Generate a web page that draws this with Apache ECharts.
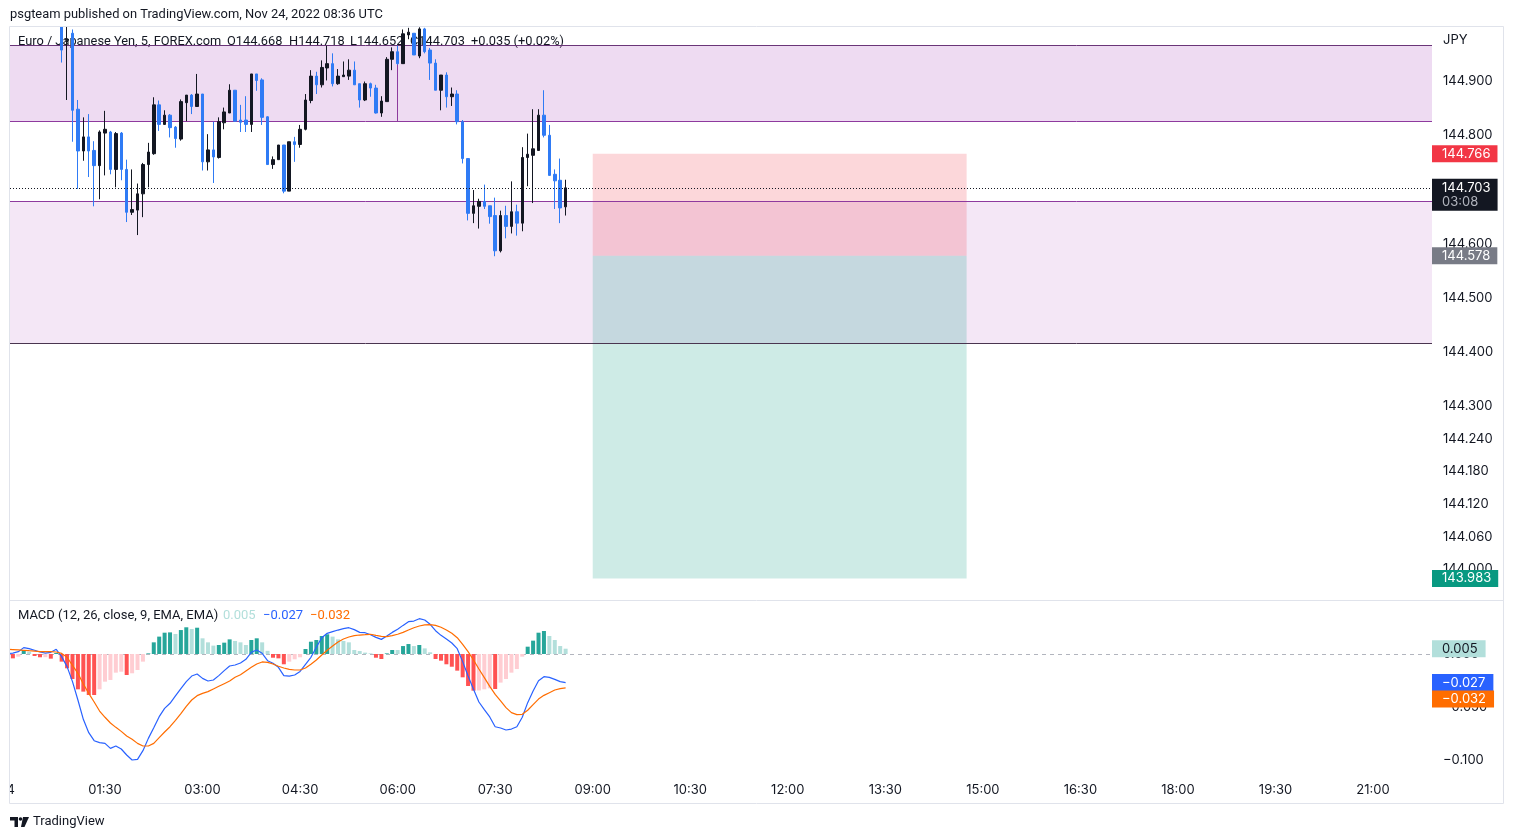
<!DOCTYPE html>
<html><head><meta charset="utf-8">
<script src="https://cdn.jsdelivr.net/npm/echarts@6/dist/echarts.min.js"></script>
<style>html,body{margin:0;padding:0;background:#fff;}#c{width:1514px;height:839px;}</style>
</head><body><div id="c"></div>
<script>
// ---------- DATA ----------
const barTimes = [
'00:00','00:05','00:10','00:15','00:20','00:25','00:30','00:35','00:40','00:45',
'00:50','00:55','01:00','01:05','01:10','01:15','01:20','01:25','01:30','01:35',
'01:40','01:45','01:50','01:55','02:00','02:05','02:10','02:15','02:20','02:25',
'02:30','02:35','02:40','02:45','02:50','02:55','03:00','03:05','03:10','03:15',
'03:20','03:25','03:30','03:35','03:40','03:45','03:50','03:55','04:00','04:05',
'04:10','04:15','04:20','04:25','04:30','04:35','04:40','04:45','04:50','04:55',
'05:00','05:05','05:10','05:15','05:20','05:25','05:30','05:35','05:40','05:45',
'05:50','05:55','06:00','06:05','06:10','06:15','06:20','06:25','06:30','06:35',
'06:40','06:45','06:50','06:55','07:00','07:05','07:10','07:15','07:20','07:25',
'07:30','07:35','07:40','07:45','07:50','07:55','08:00','08:05','08:10','08:15',
'08:20','08:25','08:30','08:35'];
const candleTimes = barTimes.slice(10);
const opens = [
145.030,144.975,144.988,144.848,144.771,144.797,144.772,144.744,144.804,144.806,
144.737,144.804,144.737,144.658,144.662,144.692,144.746,144.766,144.856,144.820,
144.837,144.815,144.793,144.860,144.874,144.853,144.876,144.751,144.773,144.759,
144.823,144.841,144.883,144.828,144.828,144.820,144.913,144.902,144.834,144.746,
144.755,144.782,144.697,144.788,144.783,144.811,144.864,144.909,144.893,144.924,
144.932,144.895,144.908,144.909,144.920,144.895,144.865,144.895,144.887,144.841,
144.862,144.940,144.954,144.932,144.985,144.988,144.946,144.996,144.957,144.933,
144.883,144.911,144.871,144.876,144.825,144.757,144.656,144.669,144.678,144.670,
144.652,144.587,144.652,144.632,144.659,144.638,144.759,144.763,144.772,144.837,
144.800,144.728,144.717,144.668];
const highs = [
145.050,145.020,144.995,144.865,144.833,144.839,144.789,144.809,144.845,144.808,
144.806,144.806,144.755,144.737,144.711,144.749,144.786,144.870,144.864,144.846,
144.839,144.817,144.866,144.874,144.876,144.913,144.876,144.802,144.825,144.833,
144.851,144.894,144.883,144.856,144.872,144.913,144.913,144.905,144.835,144.761,
144.782,144.782,144.788,144.797,144.819,144.876,144.920,144.917,144.938,144.965,
144.951,144.922,144.936,144.940,144.936,144.895,144.899,144.897,144.893,144.872,
144.944,144.962,144.965,144.995,144.998,144.988,144.999,144.998,144.961,144.940,
144.911,144.916,144.888,144.883,144.828,144.758,144.699,144.683,144.709,144.670,
144.685,144.661,144.670,144.715,144.672,144.778,144.803,144.848,144.848,144.883,
144.819,144.737,144.757,144.718];
const lows = [
144.934,144.865,144.788,144.701,144.753,144.723,144.669,144.682,144.726,144.728,
144.704,144.717,144.640,144.653,144.616,144.649,144.704,144.764,144.808,144.819,
144.796,144.777,144.790,144.826,144.839,144.853,144.735,144.735,144.712,144.757,
144.811,144.841,144.825,144.806,144.806,144.806,144.882,144.819,144.746,144.738,
144.755,144.693,144.697,144.751,144.777,144.809,144.859,144.876,144.888,144.901,
144.890,144.893,144.908,144.902,144.893,144.851,144.863,144.871,144.840,144.834,
144.862,144.920,144.930,144.932,144.977,144.948,144.942,144.951,144.902,144.883,
144.846,144.851,144.854,144.820,144.748,144.643,144.638,144.628,144.664,144.637,
144.577,144.584,144.610,144.619,144.615,144.623,144.706,144.675,144.772,144.796,
144.726,144.664,144.638,144.652];
const closes = [
144.957,144.977,144.846,144.771,144.797,144.771,144.744,144.806,144.811,144.737,
144.803,144.737,144.658,144.663,144.692,144.746,144.769,144.856,144.820,144.837,
144.814,144.794,144.862,144.874,144.853,144.876,144.751,144.773,144.760,144.825,
144.843,144.883,144.826,144.824,144.820,144.913,144.901,144.833,144.746,144.755,
144.782,144.697,144.788,144.783,144.811,144.865,144.909,144.893,144.925,144.932,
144.895,144.909,144.911,144.920,144.893,144.865,144.895,144.887,144.841,144.863,
144.940,144.954,144.932,144.987,144.990,144.948,144.996,144.954,144.933,144.883,
144.911,144.871,144.876,144.825,144.757,144.656,144.670,144.678,144.669,144.650,
144.587,144.652,144.632,144.659,144.638,144.759,144.765,144.775,144.837,144.800,
144.726,144.716,144.666,144.703];

const macdLine = [
0.0003,0.0009,0.0022,0.0060,0.0050,0.0035,0.0019,0.0009,0.0016,0.0044,
-0.0025,-0.0119,-0.0261,-0.0434,-0.0616,-0.0742,-0.0818,-0.0836,-0.0843,-0.0890,
-0.0868,-0.0896,-0.0953,-0.1000,-0.0994,-0.0912,-0.0796,-0.0695,-0.0591,-0.0513,
-0.0465,-0.0396,-0.0327,-0.0261,-0.0208,-0.0189,-0.0230,-0.0255,-0.0245,-0.0204,
-0.0157,-0.0113,-0.0104,-0.0085,-0.0050,0.0016,0.0038,0.0006,-0.0063,-0.0088,
-0.0126,-0.0204,-0.0208,-0.0198,-0.0164,-0.0097,
-0.0031,0.0063,0.0154,0.0195,0.0211,0.0226,0.0239,0.0248,0.0230,0.0204,
0.0201,0.0182,0.0157,0.0138,0.0170,0.0204,0.0233,0.0270,0.0305,0.0311,
0.0333,0.0321,0.0280,0.0220,0.0176,0.0142,0.0104,0.0050,-0.0072,-0.0208,
-0.0333,-0.0453,-0.0525,-0.0594,-0.0686,-0.0698,-0.0717,-0.0708,-0.0686,-0.0597,
-0.0459,-0.0349,-0.0252,-0.0214,-0.0220,-0.0239,-0.0261,-0.0270];
const signalLine = [
0.0044,0.0041,0.0038,0.0035,0.0031,0.0028,0.0022,0.0022,0.0022,0.0019,
0.0006,-0.0031,-0.0107,-0.0182,-0.0283,-0.0371,-0.0453,-0.0538,-0.0597,-0.0651,
-0.0692,-0.0730,-0.0774,-0.0805,-0.0843,-0.0868,-0.0868,-0.0843,-0.0789,-0.0736,
-0.0686,-0.0626,-0.0563,-0.0494,-0.0434,-0.0393,-0.0371,-0.0355,-0.0330,-0.0305,
-0.0280,-0.0255,-0.0220,-0.0195,-0.0160,-0.0126,-0.0094,-0.0075,-0.0079,-0.0094,
-0.0116,-0.0132,-0.0145,-0.0151,-0.0151,-0.0132,
-0.0097,-0.0057,-0.0009,0.0035,0.0075,0.0113,0.0142,0.0160,0.0173,0.0179,
0.0182,0.0186,0.0176,0.0167,0.0164,0.0173,0.0186,0.0204,0.0226,0.0248,
0.0264,0.0274,0.0277,0.0270,0.0252,0.0226,0.0195,0.0154,0.0091,0.0022,
-0.0057,-0.0142,-0.0223,-0.0305,-0.0381,-0.0443,-0.0506,-0.0553,-0.0572,-0.0569,
-0.0531,-0.0478,-0.0425,-0.0390,-0.0365,-0.0340,-0.0327,-0.0320];
const histogram = [
-0.0040,-0.0041,-0.0025,0.0038,0.0022,-0.0019,-0.0031,-0.0030,-0.0044,0.0010,
-0.0072,-0.0135,-0.0236,-0.0333,-0.0355,-0.0387,-0.0387,-0.0333,-0.0261,-0.0245,
-0.0176,-0.0167,-0.0198,-0.0182,-0.0151,-0.0072,0.0006,0.0110,0.0164,0.0201,
0.0204,0.0189,0.0226,0.0252,0.0236,0.0248,0.0148,0.0110,0.0079,0.0085,
0.0107,0.0138,0.0123,0.0110,0.0085,0.0132,0.0148,0.0110,0.0030,-0.0035,
-0.0041,-0.0097,-0.0072,-0.0050,-0.0031,0.0047,
0.0116,0.0132,0.0170,0.0186,0.0164,0.0138,0.0123,0.0110,0.0038,0.0028,
0.0013,0.0006,-0.0035,-0.0047,0.0006,0.0038,0.0038,0.0075,0.0094,0.0075,
0.0085,0.0053,0.0016,-0.0047,-0.0063,-0.0097,-0.0120,-0.0157,-0.0220,-0.0302,
-0.0346,-0.0344,-0.0333,-0.0324,-0.0330,-0.0270,-0.0236,-0.0176,-0.0142,-0.0025,
0.0069,0.0126,0.0201,0.0217,0.0170,0.0132,0.0075,0.0050];

const priceTicks = [144.9, 144.8, 144.7, 144.6, 144.5, 144.4, 144.3, 144.24, 144.18, 144.12, 144.06, 144.0];
const macdTicks = [0, -0.05, -0.1];
const timeTicks = ['01:30','03:00','04:30','06:00','07:30','09:00','10:30','12:00','13:30','15:00','16:30','18:00','19:30','21:00'];

// drawings (price levels / times)
const upperZone = [144.9664, 144.8263];
const lowerZone = [144.6788, 144.4171];
const drawnLine = {time: '06:00', from: 144.9315, to: 144.8263};
const position = {start: '09:00', end: '14:45', stop: 144.766, entry: 144.578, target: 143.983};
const lastPrice = 144.703, countdown = '03:08';
const lastMacd = {hist: 0.005, macd: -0.027, signal: -0.032};

// ---------- CHART ----------
const NUMFONT = "Inter, Roboto, sans-serif";
const FONT = "Roboto, 'Noto Sans', sans-serif";
const TXT = '#131722';
const CLEAR = 'rgba(0,0,0,0)';
const toMin = s => { const p = s.split(':').map(Number); return p[0] * 60 + p[1]; };
const fmtT = m => String(Math.floor(m / 60)).padStart(2, '0') + ':' + String(m % 60).padStart(2, '0');
const fmtM = v => (v < 0 ? '\u2212' : '') + Math.abs(v).toFixed(3);
const X_MIN = 2.34, X_MAX = 1314.4;
const Y_MIN = 143.9433, Y_MAX = 144.9977;
const M_MIN = -0.11415, M_MAX = 0.05;

const candleData = candleTimes.map((t, i) => [toMin(t), opens[i], closes[i], lows[i], highs[i]]);
const histData = histogram.map((v, i) => {
  const p = i > 0 ? histogram[i - 1] : v;
  const c = v >= 0 ? (v > p ? '#26A69A' : '#B2DFDB') : (v > p ? '#FFCDD2' : '#FF5252');
  return { value: [toMin(barTimes[i]), v], itemStyle: { color: c } };
});
const macdData = macdLine.map((v, i) => [toMin(barTimes[i]), v]);
const sigData = signalLine.map((v, i) => [toMin(barTimes[i]), v]);

const boxLabel = (text, bg, fg, extra) => Object.assign({
  show: true, position: 'end', distance: 0, backgroundColor: bg, color: fg,
  fontFamily: NUMFONT, fontSize: 13, lineHeight: 14, padding: [2, 7, 1, 10],
  formatter: () => text
}, extra || {});
const hidden = { color: CLEAR, width: 0 };

const option = {
  animation: false,
  textStyle: { fontFamily: NUMFONT },
  grid: [
    { left: 10, top: 28, width: 1422, height: 572 },
    { left: 10, top: 601, width: 1422, height: 174 }
  ],
  xAxis: [
    { type: 'value', gridIndex: 0, min: X_MIN, max: X_MAX, axisLine: { show: false }, axisTick: { show: false }, axisLabel: { show: false }, splitLine: { show: false } },
    { type: 'value', gridIndex: 1, min: X_MIN, max: X_MAX, axisLine: { show: false }, axisTick: { show: false }, splitLine: { show: false },
      axisLabel: { customValues: timeTicks.map(toMin), formatter: v => fmtT(v), color: TXT, fontSize: 13, margin: 9, fontFamily: NUMFONT } }
  ],
  yAxis: [
    { type: 'value', gridIndex: 0, position: 'right', min: Y_MIN, max: Y_MAX, axisLine: { show: false }, axisTick: { show: false }, splitLine: { show: false },
      axisLabel: { customValues: priceTicks, formatter: v => v.toFixed(3), color: TXT, fontSize: 13, margin: 11, fontFamily: NUMFONT } },
    { type: 'value', gridIndex: 1, position: 'right', min: M_MIN, max: M_MAX, axisLine: { show: false }, axisTick: { show: false }, splitLine: { show: false },
      axisLabel: { customValues: macdTicks, formatter: v => fmtM(v), color: TXT, fontSize: 13, margin: 11, fontFamily: NUMFONT } }
  ],
  series: [
    { // drawings: zones, position tool
      type: 'line', name: 'drawings', xAxisIndex: 0, yAxisIndex: 0, data: [], z: 1, silent: true,
      markArea: {
        silent: true, z: 1,
        data: [
          [{ xAxis: X_MIN, yAxis: upperZone[0], itemStyle: { color: 'rgba(156,39,176,0.17)' } }, { xAxis: X_MAX, yAxis: upperZone[1] }],
          [{ xAxis: X_MIN, yAxis: lowerZone[0], itemStyle: { color: 'rgba(156,39,176,0.11)' } }, { xAxis: X_MAX, yAxis: lowerZone[1] }],
          [{ xAxis: toMin(position.start), yAxis: position.stop, itemStyle: { color: 'rgba(242,54,69,0.2)' } }, { xAxis: toMin(position.end), yAxis: position.entry }],
          [{ xAxis: toMin(position.start), yAxis: position.entry, itemStyle: { color: 'rgba(8,153,129,0.2)' } }, { xAxis: toMin(position.end), yAxis: position.target }]
        ]
      },
      markLine: {
        silent: true, z: 1, symbol: 'none', precision: 4, label: { show: false },
        lineStyle: { color: '#8E3A9E', width: 1, type: 'solid' },
        data: [
          { yAxis: upperZone[0], lineStyle: { color: '#6A3578' } }, { yAxis: upperZone[1] },
          { yAxis: lowerZone[0] }, { yAxis: lowerZone[1], lineStyle: { color: '#4A3550' } },
          [{ coord: [toMin(drawnLine.time), drawnLine.from] }, { coord: [toMin(drawnLine.time), drawnLine.to] }]
        ]
      }
    },
    {
      type: 'candlestick', name: 'EURJPY', xAxisIndex: 0, yAxisIndex: 0, z: 2,
      data: candleData, encode: { x: 0, y: [1, 2, 3, 4] }, barWidth: 3, clip: true,
      itemStyle: { color: '#131722', color0: '#2F7BF5', borderColor: '#131722', borderColor0: '#2F7BF5', borderWidth: 1 },
      markLine: {
        silent: true, symbol: 'none', precision: 4,
        data: [
          { yAxis: lastPrice, lineStyle: { color: '#131722', type: [1, 2], width: 1 },
            label: boxLabel('{a|' + lastPrice.toFixed(3) + '}\n{b|' + countdown + '}', '#131722', '#ffffff', { offset: [0, 7], padding: [2, 7, 2, 10],
              rich: { a: { color: '#ffffff', fontSize: 13, lineHeight: 14, fontFamily: NUMFONT }, b: { color: '#B2B5BE', fontSize: 13, lineHeight: 14, fontFamily: NUMFONT } } }) },
          { yAxis: position.stop, lineStyle: hidden, label: boxLabel(position.stop.toFixed(3), '#F23645', '#ffffff') },
          { yAxis: position.entry, lineStyle: hidden, label: boxLabel(position.entry.toFixed(3), '#787B86', '#ffffff') },
          { yAxis: position.target, lineStyle: hidden, label: boxLabel(position.target.toFixed(3), '#089981', '#ffffff') }
        ]
      }
    },
    {
      type: 'bar', name: 'Histogram', xAxisIndex: 1, yAxisIndex: 1, data: histData, barWidth: 4, z: 2,
      markLine: {
        silent: true, symbol: 'none', precision: 4,
        data: [
          { yAxis: lastMacd.hist, lineStyle: hidden, label: boxLabel(fmtM(lastMacd.hist), '#B2DFDB', '#131722', { padding: [2, 8, 1, 10] }) },
          { yAxis: lastMacd.macd, lineStyle: hidden, label: boxLabel(fmtM(lastMacd.macd), '#2962FF', '#ffffff', { padding: [2, 8, 1, 10] }) },
          { yAxis: lastMacd.signal, lineStyle: hidden, label: boxLabel(fmtM(lastMacd.signal), '#FF6D00', '#ffffff', { padding: [2, 8, 1, 10], offset: [0, 11] }) }
        ]
      }
    },
    {
      type: 'line', name: 'MACD', xAxisIndex: 1, yAxisIndex: 1, data: macdData, showSymbol: false, z: 3,
      lineStyle: { color: '#2962FF', width: 1.2 }
    },
    {
      type: 'line', name: 'Signal', xAxisIndex: 1, yAxisIndex: 1, data: sigData, showSymbol: false, z: 3,
      lineStyle: { color: '#FF6D00', width: 1.2 },
      markLine: { silent: true, z: 1, symbol: 'none', precision: 4, label: { show: false },
        lineStyle: { color: '#B2B5BE', type: [4, 4], width: 1 }, data: [{ yAxis: 0 }] }
    }
  ],
  graphic: { elements: [
    // covers for marks extending outside the panes
    { type: 'rect', z: 40, silent: true, shape: { x: 0, y: 0, width: 1514, height: 26.5 }, style: { fill: '#ffffff' } },
    { type: 'rect', z: 40, silent: true, shape: { x: 0, y: 26, width: 9.5, height: 752 }, style: { fill: '#ffffff' } },
    { type: 'text', x: 10, y: 15, z: 41, style: { text: 'psgteam published on TradingView.com, Nov 24, 2022 08:36 UTC', fill: TXT, fontSize: 12.9, fontFamily: FONT, verticalAlign: 'middle' } },
    { type: 'text', x: 18, y: 42, style: { text: 'Euro / Japanese Yen, 5, FOREX.com', fill: TXT, fontSize: 12.8, fontFamily: FONT, verticalAlign: 'middle' } },
    { type: 'text', x: 227, y: 42, style: { text: 'O144.668', fill: TXT, fontSize: 12.8, fontFamily: FONT, verticalAlign: 'middle' } },
    { type: 'text', x: 289, y: 42, style: { text: 'H144.718', fill: TXT, fontSize: 12.8, fontFamily: FONT, verticalAlign: 'middle' } },
    { type: 'text', x: 350, y: 42, style: { text: 'L144.652', fill: TXT, fontSize: 12.8, fontFamily: FONT, verticalAlign: 'middle' } },
    { type: 'text', x: 410, y: 42, style: { text: 'C144.703', fill: TXT, fontSize: 12.8, fontFamily: FONT, verticalAlign: 'middle' } },
    { type: 'text', x: 471, y: 42, style: { text: '+0.035 (+0.02%)', fill: TXT, fontSize: 12.8, fontFamily: FONT, verticalAlign: 'middle' } },
    { type: 'text', x: 18, y: 616, style: { text: 'MACD (12, 26, close, 9, EMA, EMA)', fill: TXT, fontSize: 13, fontFamily: FONT, verticalAlign: 'middle' } },
    { type: 'text', x: 223, y: 616, style: { text: fmtM(lastMacd.hist), fill: '#B2DFDB', fontSize: 13, fontFamily: FONT, verticalAlign: 'middle' } },
    { type: 'text', x: 263, y: 616, style: { text: fmtM(lastMacd.macd), fill: '#2962FF', fontSize: 13, fontFamily: FONT, verticalAlign: 'middle' } },
    { type: 'text', x: 310, y: 616, style: { text: fmtM(lastMacd.signal), fill: '#FF6D00', fontSize: 13, fontFamily: FONT, verticalAlign: 'middle' } },
    { type: 'text', x: 1443, y: 40, z: 41, style: { text: 'JPY', fill: TXT, fontSize: 13, fontFamily: NUMFONT, verticalAlign: 'middle' } },
    { type: 'text', x: 15, y: 790, z: 5, style: { text: '24', fill: TXT, fontSize: 13, fontFamily: NUMFONT, verticalAlign: 'middle', align: 'right' } },
    { type: 'rect', z: 20, silent: true, shape: { x: 0, y: 778, width: 9, height: 24 }, style: { fill: '#ffffff' } },
    // frame
    { type: 'rect', z: 42, silent: true, shape: { x: 9.5, y: 26.5, width: 1494, height: 777 }, style: { fill: 'none', stroke: '#E0E3EB', lineWidth: 1 } },
    { type: 'line', z: 42, silent: true, shape: { x1: 9.5, y1: 600.5, x2: 1503.5, y2: 600.5 }, style: { stroke: '#E0E3EB', lineWidth: 1 } },
    // footer logo + text
    { type: 'polygon', z: 42, shape: { points: [[10, 817], [18, 817], [18, 827], [14.5, 827], [14.5, 820.5], [10, 820.5]] }, style: { fill: TXT } },
    { type: 'circle', z: 42, shape: { cx: 20.5, cy: 819, r: 1.8 }, style: { fill: TXT } },
    { type: 'polygon', z: 42, shape: { points: [[23, 817], [29, 817], [24.5, 827], [21, 827]] }, style: { fill: TXT } },
    { type: 'text', x: 33, y: 822, z: 42, style: { text: 'TradingView', fill: TXT, fontSize: 13, fontFamily: FONT, verticalAlign: 'middle' } }
  ] }
};
const chart = echarts.init(document.getElementById('c'));
chart.setOption(option);
</script>
</body></html>
